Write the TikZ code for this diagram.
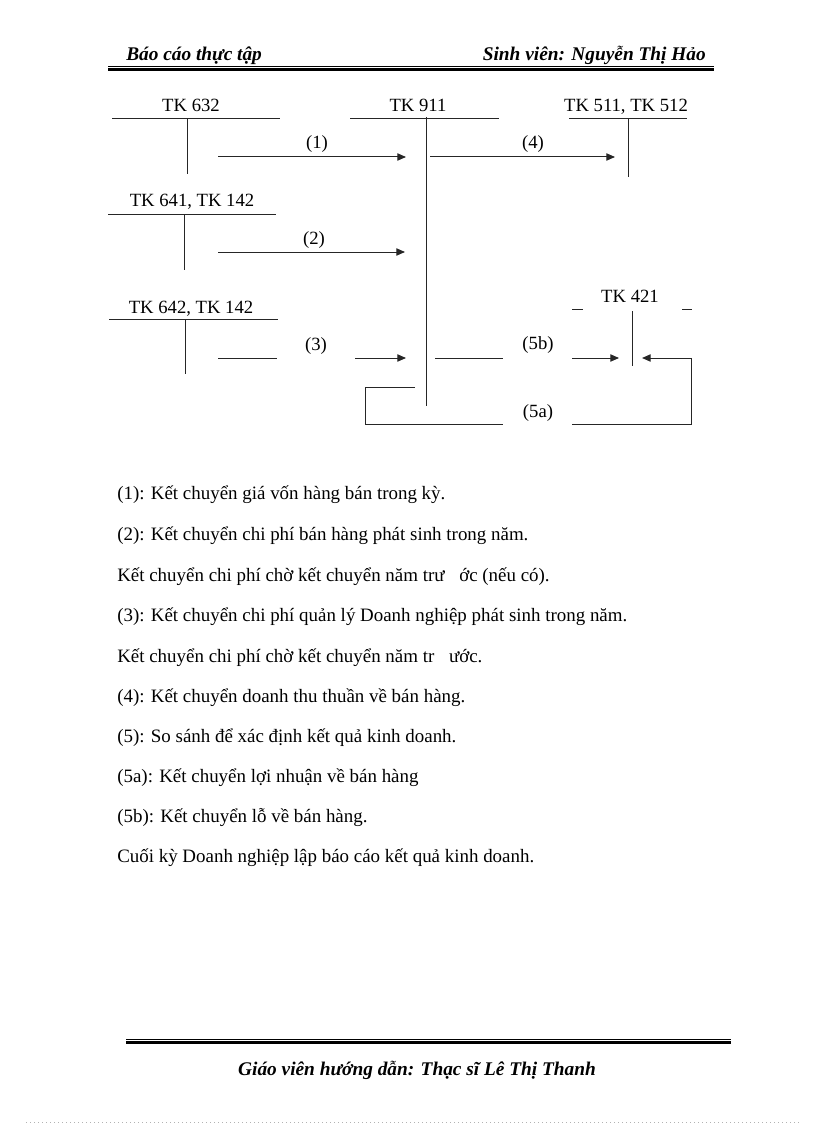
\documentclass[tikz,border=0pt]{standalone}
\usepackage{fontspec}
\setmainfont{Liberation Serif}
\usepackage{tikz}
\usetikzlibrary{positioning}
\usetikzlibrary{arrows.meta}

\tikzset{
    acc/.style={inner sep=0pt, anchor=base, font=\fontsize{14}{16}\selectfont},
    lbl/.style={inner sep=0pt, anchor=base, font=\fontsize{14}{16}\selectfont},
    note/.style={inner sep=0pt, anchor=base west, font=\fontsize{14.2}{16}\selectfont},
    head/.style={inner sep=0pt, anchor=base, font=\fontsize{14.5}{17}\selectfont\bfseries\itshape},
    tline/.style={line width=0.75pt, black!85},
    flow/.style={line width=0.75pt, black!85},
}

\begin{document}
\begin{tikzpicture}[x=0.75pt, y=-0.75pt, >={Triangle[length=6.5pt, width=5.5pt]}]
    \useasboundingbox (0,0) rectangle (816,1123);

    % header
    \node[head, anchor=base west] (hleft) at (126,61) {Báo cáo thực tập};
    \node[head, anchor=base east] (hright) at (706,61) {Sinh viên: Nguyễn Thị Hảo};
    \draw[line width=0.75pt] (108,66.5) -- (714,66.5);
    \draw[line width=2.4pt] (108,69.5) -- (714,69.5);

    % T accounts
    \node[acc] (tk632) at (191,112) {TK 632};
    \draw[tline] (112,119) -- (280,119) (187,119) -- (187,174);
    \node[acc] (tk911) at (418,112) {TK 911};
    \draw[tline] (350,119) -- (499,119) (426,117) -- (426,406);
    \node[acc] (tk511) at (626,112) {TK 511, TK 512};
    \draw[tline] (569,119) -- (687,119) (628,119) -- (628,177);
    \node[acc] (tk641) at (192,207) {TK 641, TK 142};
    \draw[tline] (108,215) -- (276,215) (184,215) -- (184,270);
    \node[acc] (tk642) at (191,313) {TK 642, TK 142};
    \draw[tline] (109,319) -- (278,319) (185,319) -- (185,374);
    \node[acc] (tk421) at (630,302) {TK 421};
    \draw[tline] (572,309) -- (583,309) (682,309) -- (692,309) (632,311) -- (632,366);

    % flows
    \coordinate (f1a) at (218,157);
    \coordinate (f1b) at (406,157);
    \draw[flow, ->] (f1a) -- (f1b);
    \node[lbl] (n1) at (317,149) {(1)};

    \coordinate (f4a) at (430,157);
    \coordinate (f4b) at (615,157);
    \draw[flow, ->] (f4a) -- (f4b);
    \node[lbl] (n4) at (533,149) {(4)};

    \coordinate (f2a) at (218,252);
    \coordinate (f2b) at (405,252);
    \draw[flow, ->] (f2a) -- (f2b);
    \node[lbl] (n2) at (314,244) {(2)};

    \coordinate (f3a) at (218,358);
    \coordinate (f3b) at (277,358);
    \coordinate (f3c) at (355,358);
    \coordinate (f3d) at (406,358);
    \draw[flow] (f3a) -- (f3b);
    \draw[flow, ->] (f3c) -- (f3d);
    \node[lbl] (n3) at (316,350) {(3)};

    \coordinate (f5ba) at (435,358);
    \coordinate (f5bb) at (503,358);
    \coordinate (f5bc) at (572,358);
    \coordinate (f5bd) at (619,358);
    \draw[flow] (f5ba) -- (f5bb);
    \draw[flow, ->] (f5bc) -- (f5bd);
    \node[lbl] (n5b) at (538,349) {(5b)};

    \coordinate (f5aa) at (415,387);
    \coordinate (f5ab) at (503,424);
    \coordinate (f5ac) at (572,424);
    \coordinate (f5ad) at (642,358);
    \draw[flow] (f5aa) -- (365,387) -- (365,424) -- (f5ab);
    \draw[flow, ->] (f5ac) -- (691,424) -- (691,358) -- (f5ad);
    \node[lbl] (n5a) at (538,417) {(5a)};

    % notes
    \node[note] (t1) at (117,499) {(1): Kết chuyển giá vốn hàng bán trong kỳ.};
    \node[note] (t2) at (117,540) {(2): Kết chuyển chi phí bán hàng phát sinh trong năm.};
    \node[note] (t3) at (117,581) {Kết chuyển chi phí chờ kết chuyển năm trư\hspace{11pt}ớc (nếu có).};
    \node[note] (t4) at (117,621) {(3): Kết chuyển chi phí quản lý Doanh nghiệp phát sinh trong năm.};
    \node[note] (t5) at (117,662) {Kết chuyển chi phí chờ kết chuyển năm tr\hspace{11pt}ước.};
    \node[note] (t6) at (117,702) {(4): Kết chuyển doanh thu thuần về bán hàng.};
    \node[note] (t7) at (117,742) {(5): So sánh để xác định kết quả kinh doanh.};
    \node[note] (t8) at (117,782) {(5a): Kết chuyển lợi nhuận về bán hàng};
    \node[note] (t9) at (117,822) {(5b): Kết chuyển lỗ về bán hàng.};
    \node[note] (t10) at (117,862) {Cuối kỳ Doanh nghiệp lập báo cáo kết quả kinh doanh.};

    % footer
    \draw[line width=0.75pt] (126,1039) -- (731,1039);
    \draw[line width=2.4pt] (126,1042.5) -- (731,1042.5);
    \node[head] (foot) at (417,1075) {Giáo viên hướng dẫn: Thạc sĩ Lê Thị Thanh};
    \draw[black!30, line width=0.75pt, dash pattern=on 0.75pt off 2.25pt] (26,1122) -- (800,1122);
\end{tikzpicture}
\end{document}
